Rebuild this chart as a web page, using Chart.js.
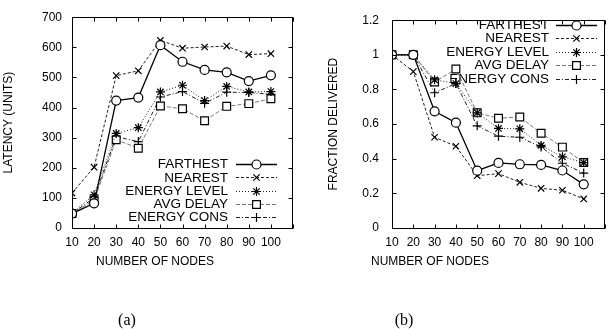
<!DOCTYPE html>
<html>
<head>
<meta charset="utf-8">
<script src="https://cdn.jsdelivr.net/npm/chart.js@4/dist/chart.umd.min.js"></script>
<style>
  body { margin: 0; background: #fff; width: 612px; height: 329px; position: relative; overflow: hidden; }
  .box { position: absolute; top: 0; width: 306px; height: 329px; }
  .cap { position: absolute; top: 311px; line-height: 16px; font: 16px "Liberation Serif", serif; color: #000; transform: translateX(-50%); }
</style>
</head>
<body>
<div class="box" style="left:0"><canvas id="diagramA" width="306" height="329"></canvas></div>
<div class="box" style="left:306px"><canvas id="diagramB" width="306" height="329"></canvas></div>
<div class="cap" style="left:127px">(a)</div>
<div class="cap" style="left:404px">(b)</div>
<script>
// antal noder
const nodes = [10, 20, 30, 40, 50, 60, 70, 80, 90, 100];
const seriesNames = ["FARTHEST", "NEAREST", "ENERGY LEVEL", "AVG DELAY", "ENERGY CONS"];

// (a) latency
const latFarthest = [48, 82, 423, 433, 607, 552, 525, 517, 488, 507];
const latNearest = [116, 202, 506, 522, 623, 597, 601, 604, 576, 579];
const latEnergyLevel = [50, 110, 314, 333, 452, 474, 423, 470, 452, 453];
const latAvgDelay = [48, 92, 293, 265, 405, 396, 356, 404, 413, 429];
const latEnergyCons = [48, 100, 303, 287, 435, 453, 414, 451, 450, 444];

// (b) fraction delivered
const fracFarthest = [1, 1, 0.674, 0.608, 0.331, 0.376, 0.368, 0.364, 0.332, 0.252];
const fracNearest = [1, 0.903, 0.524, 0.472, 0.302, 0.314, 0.264, 0.229, 0.218, 0.168];
const fracEnergyLevel = [1, 1, 0.856, 0.834, 0.665, 0.575, 0.573, 0.477, 0.411, 0.378];
const fracAvgDelay = [1, 1, 0.843, 0.918, 0.665, 0.634, 0.641, 0.547, 0.467, 0.378];
const fracEnergyCons = [1, 1, 0.781, 0.834, 0.59, 0.53, 0.524, 0.468, 0.374, 0.317];

// linjestilar, samma ordning som seriesNames
const styles = [
  { color: "#000", dash: [], point: "circle", width: 1.3 },
  { color: "#222", dash: [3, 2], point: "crossRot", width: 1 },
  { color: "#222", dash: [1, 2], point: "star", width: 1 },
  { color: "#777", dash: [4, 2], point: "rect", width: 1 },
  { color: "#222", dash: [4, 2, 1, 2], point: "cross", width: 1 },
];

const FONT = '"Liberation Sans", Arial, sans-serif';

function makeDatasets(seriesList) {
  return seriesList.map((vals, i) => ({
    label: seriesNames[i],
    data: vals.map((v, j) => ({ x: nodes[j], y: v })),
    borderColor: styles[i].color,
    borderDash: styles[i].dash,
    borderWidth: styles[i].width,
    pointStyle: styles[i].point,
    pointRadius: styles[i].point === "rect" ? 5.5 : 4.5,
    pointBorderWidth: 1.2,
    pointBorderColor: "#000",
    pointBackgroundColor: "#fff",
    fill: false,
    tension: 0,
  }));
}

function drawMarker(ctx, style, radius, x, y) {
  if (Chart.helpers && Chart.helpers.drawPoint) {
    Chart.helpers.drawPoint(ctx, { pointStyle: style, radius: radius, rotation: 0, borderWidth: 1.2 }, x, y);
  }
}

// ram, inåtvända tickar, axeltitlar och legend i gnuplot-stil
const gnuplotFrame = {
  id: "gnuplotFrame",
  afterDraw(chart, args, opts) {
    const { ctx, chartArea: a, scales } = chart;
    const L = Math.round(a.left) + 0.5, R = Math.round(a.right) - 0.5;
    const T = Math.round(a.top) + 0.5, B = Math.round(a.bottom) + 0.5;
    ctx.save();
    ctx.strokeStyle = "#000";
    ctx.lineWidth = 1;
    ctx.setLineDash([]);
    ctx.strokeRect(L, T, R - L, B - T);
    const t = 4;
    ctx.beginPath();
    scales.x.ticks.forEach((tk) => {
      const px = Math.round(scales.x.getPixelForValue(tk.value)) + 0.5;
      ctx.moveTo(px, B); ctx.lineTo(px, B - t);
      ctx.moveTo(px, T); ctx.lineTo(px, T + t);
    });
    scales.y.ticks.forEach((tk) => {
      const py = Math.round(scales.y.getPixelForValue(tk.value)) + 0.5;
      ctx.moveTo(L, py); ctx.lineTo(L + t, py);
      ctx.moveTo(R, py); ctx.lineTo(R - t, py);
    });
    ctx.stroke();

    // axeltitlar
    ctx.fillStyle = "#000";
    ctx.font = "12px " + FONT;
    ctx.textAlign = "center";
    ctx.textBaseline = "middle";
    ctx.fillText(opts.xTitle, opts.xTitleX, opts.xTitleY);
    ctx.save();
    ctx.translate(opts.yTitleX, (a.top + a.bottom) / 2);
    ctx.rotate(-Math.PI / 2);
    ctx.fillText(opts.yTitle, 0, 0);
    ctx.restore();

    // legend
    ctx.font = "13.5px " + FONT;
    ctx.textAlign = "right";
    chart.data.datasets.forEach((ds, i) => {
      const y = opts.legendTop + i * opts.legendStep;
      ctx.fillStyle = "#000";
      ctx.fillText(ds.label, opts.legendRight, y + 0.5);
      ctx.strokeStyle = ds.borderColor;
      ctx.lineWidth = ds.borderWidth;
      ctx.setLineDash(ds.borderDash);
      ctx.beginPath();
      ctx.moveTo(opts.lineStart, Math.round(y) + 0.5);
      ctx.lineTo(opts.lineEnd, Math.round(y) + 0.5);
      ctx.stroke();
      ctx.setLineDash([]);
      ctx.strokeStyle = "#000";
      ctx.fillStyle = "#fff";
      ctx.lineWidth = 1.2;
      drawMarker(ctx, ds.pointStyle, ds.pointRadius, (opts.lineStart + opts.lineEnd) / 2, Math.round(y) + 0.5);
    });
    ctx.restore();
  },
};

function makeConfig(seriesList, yMax, yStep, yFmt, yWidth, yPad, padRight, frameOpts) {
  return {
    type: "line",
    data: { datasets: makeDatasets(seriesList) },
    plugins: [gnuplotFrame],
    options: {
      responsive: false,
      animation: false,
      layout: { padding: { left: 0, right: padRight, top: 15, bottom: 71 } },
      plugins: { legend: { display: false }, tooltip: { enabled: false }, gnuplotFrame: frameOpts },
      scales: {
        x: {
          type: "linear",
          min: 10,
          max: 110,
          afterFit: (s) => { s.height = 30; },
          grid: { display: false, drawTicks: false },
          border: { display: false },
          ticks: {
            stepSize: 10,
            padding: 7,
            maxRotation: 0,
            autoSkip: false,
            color: "#000",
            font: { family: FONT, size: 12 },
            callback: (v) => (v <= 100 ? v : ""),
          },
        },
        y: {
          min: 0,
          max: yMax,
          afterFit: (s) => { s.width = yWidth; },
          grid: { display: false, drawTicks: false },
          border: { display: false },
          ticks: {
            stepSize: yStep,
            padding: yPad,
            color: "#000",
            font: { family: FONT, size: 12 },
            callback: yFmt,
          },
        },
      },
    },
  };
}

const configA = makeConfig(
  [latFarthest, latNearest, latEnergyLevel, latAvgDelay, latEnergyCons],
  700, 100, (v) => v, 72, 10, 13,
  { xTitle: "NUMBER OF NODES", xTitleX: 155, xTitleY: 262, yTitle: "LATENCY (UNITS)", yTitleX: 9,
    legendTop: 164, legendStep: 13.3, legendRight: 228, lineStart: 236, lineEnd: 277 }
);
const configB = makeConfig(
  [fracFarthest, fracNearest, fracEnergyLevel, fracAvgDelay, fracEnergyCons],
  1.2, 0.2, (v) => +v.toFixed(1), 86, 13, 0,
  { xTitle: "NUMBER OF NODES", xTitleX: 124, xTitleY: 262, yTitle: "FRACTION DELIVERED", yTitleX: 28,
    legendTop: 24.5, legendStep: 13.5, legendRight: 243, lineStart: 250, lineEnd: 291 }
);

new Chart(document.getElementById("diagramA"), configA);
new Chart(document.getElementById("diagramB"), configB);
</script>
</body>
</html>
